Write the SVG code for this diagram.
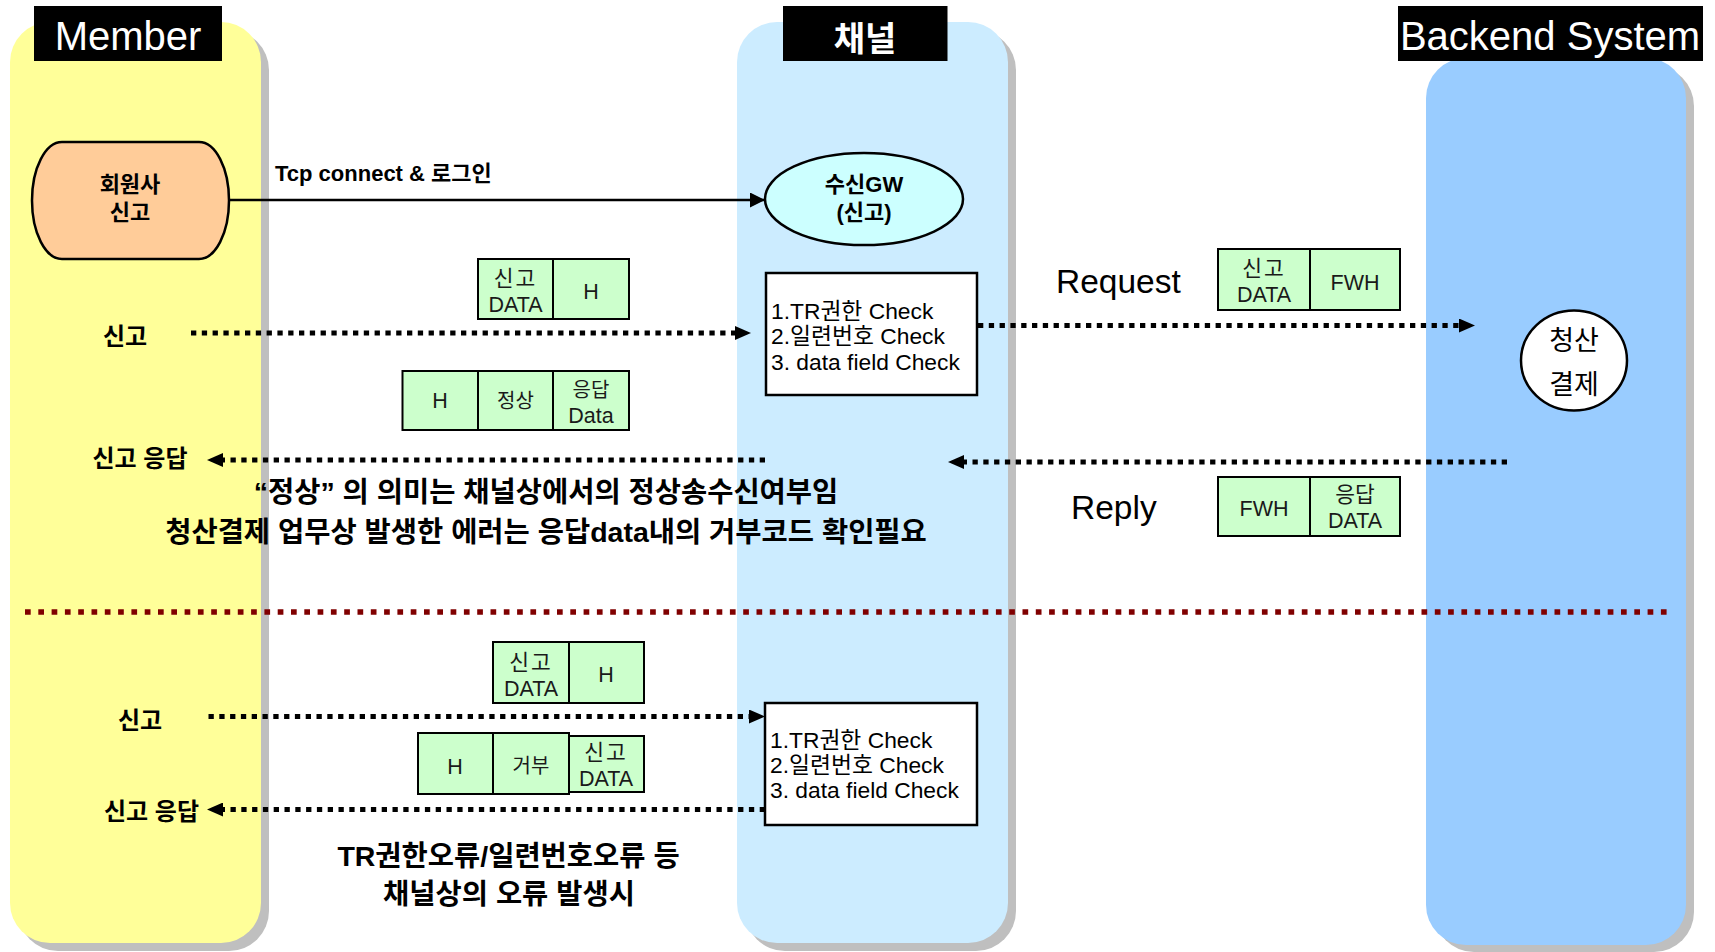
<svg xmlns="http://www.w3.org/2000/svg" width="1715" height="952" viewBox="0 0 1715 952">
<defs>
<style>
text { font-family: "Liberation Sans", "Noto Sans CJK KR", sans-serif; }
.shadow { fill: #BFBFBF; }
.hdrbox { fill: #000; }
.hdr { fill: #fff; font-size: 40px; text-anchor: middle; }
.pk { fill: #CCFFCC; stroke: #000; stroke-width: 2; }
.pt { font-size: 21.5px; fill: #1a1a1a; text-anchor: middle; }
.ps { font-size: 20px; fill: #1a1a1a; text-anchor: middle; }
.dot { fill: none; stroke: #000; stroke-width: 5; stroke-dasharray: 5.3 5.5; }
.red { fill: none; stroke: #800000; stroke-width: 5.7; stroke-dasharray: 5.7 7.6; }
.chk { fill: #fff; stroke: #000; stroke-width: 2.5; }
.ct { font-size: 22.8px; fill: #000; }
.lab { font-size: 24px; font-weight: bold; text-anchor: middle; fill: #000; }
.note { font-size: 28.5px; font-weight: bold; text-anchor: middle; fill: #000; }
.big { font-size: 33.5px; fill: #000; }
.nb { font-size: 22px; font-weight: bold; text-anchor: middle; fill: #000; }
</style>
<marker id="ah" markerUnits="userSpaceOnUse" markerWidth="16" markerHeight="14" refX="0" refY="7" orient="auto">
<path d="M0,0 L16,7 L0,14 z" fill="#000"/>
</marker>
<marker id="ahs" markerUnits="userSpaceOnUse" markerWidth="15" markerHeight="15" refX="15" refY="7.5" orient="auto">
<path d="M0,0 L15,7.5 L0,15 z" fill="#000"/>
</marker>
</defs>

<rect width="1715" height="952" fill="#fff"/>

<!-- lanes -->
<g id="lane-member">
<rect class="shadow" x="18" y="30" width="251" height="921" rx="40" ry="40"/>
<rect x="10" y="22" width="251" height="921" rx="40" ry="40" fill="#FFFF99"/>
</g>
<g id="lane-channel">
<rect class="shadow" x="745" y="30" width="271" height="921" rx="40" ry="40"/>
<rect x="737" y="22" width="271" height="921" rx="40" ry="40" fill="#CCECFF"/>
</g>
<g id="lane-backend">
<rect class="shadow" x="1434" y="66" width="260" height="886" rx="40" ry="40"/>
<rect x="1426" y="58" width="260" height="887" rx="40" ry="40" fill="#99CCFF"/>
</g>

<!-- headers -->
<g id="hdr-member">
<rect class="hdrbox" x="34" y="6" width="188" height="55"/>
<text class="hdr" x="128" y="50">Member</text>
</g>
<g id="hdr-channel">
<rect class="hdrbox" x="783" y="6" width="164.5" height="55"/>
<text class="hdr" x="865" y="51" style="font-size:34px;font-weight:bold">채널</text>
</g>
<g id="hdr-backend">
<rect class="hdrbox" x="1398" y="6" width="305" height="55"/>
<text class="hdr" x="1550" y="50">Backend System</text>
</g>

<!-- divider -->
<g id="divider">
<line class="red" x1="25" y1="612" x2="1671" y2="612"/>
</g>

<!-- connectors -->
<g id="connectors">
<line x1="229" y1="200" x2="765" y2="200" stroke="#000" stroke-width="2.5" marker-end="url(#ahs)"/>
<path class="dot" d="M191,333 L735,333" marker-end="url(#ah)"/>
<path class="dot" d="M765,460 L223,460" marker-end="url(#ah)"/>
<path class="dot" d="M978,325.5 L1459,325.5" marker-end="url(#ah)"/>
<path class="dot" d="M1507,462 L964,462" marker-end="url(#ah)"/>
<path class="dot" d="M208.5,716.5 L749,716.5" marker-end="url(#ah)"/>
<path class="dot" d="M765,809.5 L223,809.5" marker-end="url(#ah)"/>
</g>
<text class="nb" x="275" y="181" style="text-anchor:start">Tcp connect &amp; 로그인</text>

<!-- nodes -->
<g id="member-report">
<rect x="32" y="142" width="197" height="117" rx="30" ry="58.5" fill="#FFCC99" stroke="#000" stroke-width="2.5"/>
<text class="nb" x="130" y="192">회원사</text>
<text class="nb" x="130" y="220">신고</text>
</g>

<g id="gw">
<ellipse cx="864" cy="199" rx="99" ry="46" fill="#CCFFFF" stroke="#000" stroke-width="2.5"/>
<text class="nb" x="864" y="192">수신GW</text>
<text class="nb" x="864" y="220">(신고)</text>
</g>

<g id="check1">
<rect class="chk" x="766" y="273" width="211" height="122"/>
<text class="ct" x="771" y="319">1.TR권한 Check</text>
<text class="ct" x="771" y="344">2.일련번호 Check</text>
<text class="ct" x="771" y="370">3. data field Check</text>
</g>

<g id="check2">
<rect class="chk" x="765" y="703" width="212" height="122"/>
<text class="ct" x="770" y="748">1.TR권한 Check</text>
<text class="ct" x="770" y="773">2.일련번호 Check</text>
<text class="ct" x="770" y="798">3. data field Check</text>
</g>

<g id="settle">
<ellipse cx="1574" cy="360.5" rx="53" ry="50" fill="#fff" stroke="#000" stroke-width="2.5"/>
<text x="1574" y="350" style="font-size:27px;text-anchor:middle">청산</text>
<text x="1574" y="394" style="font-size:27px;text-anchor:middle">결제</text>
</g>

<g id="pkt1">
<rect class="pk" x="478" y="259" width="75" height="60"/>
<rect class="pk" x="553" y="259" width="76" height="60"/>
<text class="pt" x="515.5" y="286" letter-spacing="2">신고</text>
<text class="pt" x="515.5" y="312">DATA</text>
<text class="pt" x="591" y="299">H</text>
</g>

<g id="pkt2">
<rect class="pk" x="402.5" y="371" width="75.5" height="59"/>
<rect class="pk" x="478" y="371" width="75" height="59"/>
<rect class="pk" x="553" y="371" width="76" height="59"/>
<text class="pt" x="440" y="408">H</text>
<text class="ps" x="515.5" y="408">정상</text>
<text class="ps" x="591" y="397">응답</text>
<text class="pt" x="591" y="423">Data</text>
</g>

<g id="pkt3">
<rect class="pk" x="1218" y="249" width="92" height="61"/>
<rect class="pk" x="1310" y="249" width="90" height="61"/>
<text class="pt" x="1264" y="276" letter-spacing="2">신고</text>
<text class="pt" x="1264" y="302">DATA</text>
<text class="pt" x="1355" y="290">FWH</text>
</g>

<g id="pkt4">
<rect class="pk" x="1218" y="477" width="92" height="59"/>
<rect class="pk" x="1310" y="477" width="90" height="59"/>
<text class="pt" x="1264" y="516">FWH</text>
<text class="pt" x="1355" y="502">응답</text>
<text class="pt" x="1355" y="528">DATA</text>
</g>

<g id="pkt5">
<rect class="pk" x="493" y="642" width="76" height="61"/>
<rect class="pk" x="569" y="642" width="75" height="61"/>
<text class="pt" x="531" y="670" letter-spacing="2">신고</text>
<text class="pt" x="531" y="696">DATA</text>
<text class="pt" x="606" y="682">H</text>
</g>

<g id="pkt6">
<rect class="pk" x="418" y="733" width="75" height="61"/>
<rect class="pk" x="493" y="733" width="76" height="61"/>
<rect class="pk" x="569" y="736" width="75" height="56"/>
<text class="pt" x="455" y="774">H</text>
<text class="ps" x="531" y="773">거부</text>
<text class="pt" x="606" y="760" letter-spacing="2">신고</text>
<text class="pt" x="606" y="786">DATA</text>
</g>

<!-- labels -->
<g id="labels">
<text class="lab" x="125" y="345">신고</text>
<text class="lab" x="140" y="467">신고 응답</text>
<text class="lab" x="140" y="729">신고</text>
<text class="lab" x="151.5" y="820">신고 응답</text>
<text class="big" x="1056" y="293">Request</text>
<text class="big" x="1071" y="519">Reply</text>
<text class="note" x="546" y="502">“정상” 의 의미는 채널상에서의 정상송수신여부임</text>
<text class="note" x="546" y="542">청산결제 업무상 발생한 에러는 응답data내의 거부코드 확인필요</text>
<text class="note" x="508.5" y="866">TR권한오류/일련번호오류 등</text>
<text class="note" x="509" y="904">채널상의 오류 발생시</text>
</g>
</svg>
